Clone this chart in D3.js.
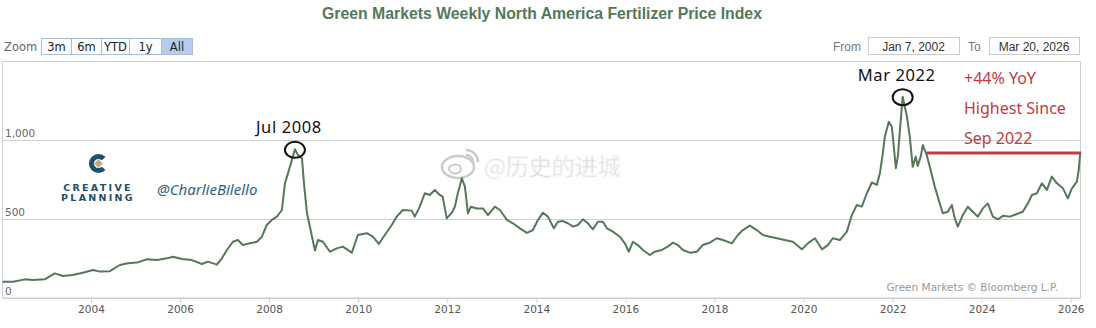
<!DOCTYPE html>
<html>
<head>
<meta charset="utf-8">
<script src="https://cdn.jsdelivr.net/npm/d3@7"></script>
<style>
body { margin: 0; background: #fff; }
svg text { font-family: "DejaVu Sans", sans-serif; }
</style>
</head>
<body>
<div id="chart"></div>
<script>
var parseDate = d3.timeParse('%Y-%m-%d');

// weekly index
var weekDates = [
  '2002-01-07','2002-04-01','2002-07-08','2002-09-12','2002-12-18','2003-03-10','2003-05-15','2003-08-05',
  '2003-10-26','2004-01-17','2004-03-14','2004-06-04','2004-08-25','2004-10-30','2005-01-12','2005-04-04',
  '2005-06-25','2005-09-15','2005-11-03','2006-01-16','2006-04-08','2006-06-29','2006-08-17','2006-10-30',
  '2006-12-10','2007-01-20','2007-03-10','2007-04-20','2007-05-31','2007-07-27','2007-09-23','2007-11-03',
  '2007-12-13','2008-01-23','2008-03-05','2008-04-15','2008-05-10','2008-06-04','2008-07-06','2008-07-31',
  '2008-08-25','2008-09-27','2008-10-13','2008-11-07','2008-12-01','2009-01-11','2009-02-05','2009-03-18',
  '2009-05-14','2009-07-10','2009-08-28','2009-11-10','2009-12-29','2010-03-13','2010-05-01','2010-06-19',
  '2010-08-07','2010-10-03','2010-11-13','2011-01-02','2011-03-16','2011-04-10','2011-05-21','2011-07-01',
  '2011-08-11','2011-09-21','2011-11-01','2011-11-25','2011-12-28','2012-02-08','2012-03-04','2012-03-28',
  '2012-04-30','2012-05-25','2012-06-19','2012-07-13','2012-09-01','2012-10-20','2012-11-30','2013-01-26',
  '2013-03-08','2013-05-05','2013-06-23','2013-08-19','2013-10-16','2013-12-04','2014-01-14','2014-02-24',
  '2014-04-06','2014-05-25','2014-06-27','2014-08-07','2014-09-17','2014-10-28','2014-12-08','2015-01-18',
  '2015-02-28','2015-04-10','2015-05-21','2015-07-01','2015-08-03','2015-09-21','2015-11-17','2015-12-28',
  '2016-01-30','2016-03-03','2016-04-13','2016-05-24','2016-07-20','2016-08-30','2016-10-26','2016-12-14',
  '2017-01-24','2017-03-07','2017-04-17','2017-06-13','2017-08-09','2017-09-27','2017-11-24','2018-01-21',
  '2018-03-11','2018-05-24','2018-07-12','2018-08-22','2018-10-18','2018-12-14','2019-02-02','2019-03-31',
  '2019-05-28','2019-08-01','2019-10-06','2019-12-19','2020-02-06','2020-04-04','2020-06-01','2020-07-19',
  '2020-08-29','2020-10-26','2020-12-22','2021-02-01','2021-03-14','2021-04-24','2021-06-04','2021-07-15',
  '2021-08-25','2021-09-19','2021-10-13','2021-10-30','2021-12-01','2021-12-26','2022-01-11','2022-01-28',
  '2022-02-13','2022-03-09','2022-03-25','2022-04-11','2022-04-27','2022-05-22','2022-06-15','2022-07-10',
  '2022-07-26','2022-08-20','2022-09-06','2022-10-08','2022-11-02','2022-12-13','2023-01-23','2023-02-17',
  '2023-03-30','2023-05-02','2023-05-26','2023-06-20','2023-07-31','2023-09-10','2023-10-21','2023-12-01',
  '2024-01-11','2024-02-21','2024-04-03','2024-05-14','2024-06-24','2024-08-20','2024-10-16','2024-12-04',
  '2025-01-15','2025-02-17','2025-03-30','2025-05-10','2025-06-20','2025-07-30','2025-09-10','2025-10-29',
  '2025-12-09','2026-01-11','2026-02-21','2026-03-08','2026-03-20'
];
var indexValues = [
  103, 103, 118, 114, 118, 156, 139, 146,
  160, 177, 167, 170, 209, 220, 224, 245,
  240, 251, 261, 247, 240, 215, 230, 211,
  251, 304, 356, 367, 335, 346, 356, 388,
  462, 494, 515, 557, 726, 789, 873, 941,
  905, 884, 726, 536, 451, 300, 367, 356,
  293, 314, 325, 287, 399, 410, 388, 342,
  399, 462, 515, 557, 553, 515, 578, 663,
  652, 684, 652, 642, 504, 540, 578, 663,
  758, 705, 536, 578, 567, 567, 525, 578,
  557, 494, 473, 441, 412, 430, 494, 540,
  515, 441, 483, 487, 473, 452, 462, 498,
  473, 435, 483, 483, 441, 420, 388, 346,
  293, 356, 335, 304, 272, 293, 304, 325,
  350, 335, 304, 287, 293, 335, 350, 378,
  367, 346, 399, 430, 458, 430, 399, 388,
  378, 367, 356, 308, 346, 378, 308, 335,
  378, 367, 420, 525, 589, 578, 663, 731,
  716, 789, 916, 1022, 1116, 1084, 958, 821,
  895, 1126, 1274, 1211, 1158, 1022, 831, 895,
  836, 895, 968, 905, 831, 705, 599, 536,
  546, 589, 504, 452, 525, 578, 546, 515,
  567, 599, 515, 498, 520, 515, 532, 546,
  599, 652, 663, 726, 684, 768, 726, 694,
  631, 694, 737, 810, 918
];

var yTicks = [0, 500, 1000];
var xTickYears = [2004, 2006, 2008, 2010, 2012, 2014, 2016, 2018, 2020, 2022, 2024, 2026];
var zoomLabels = ['3m', '6m', 'YTD', '1y', 'All'];
var rangeLabels = ['Jan 7, 2002', 'Mar 20, 2026'];
var peakLabels = [{date: '2008-07-31', text: 'Jul 2008'}, {date: '2022-03-25', text: 'Mar 2022'}];
var sinceLines = ['+44% YoY', 'Highest Since', 'Sep 2022'];
var sinceStart = '2022-10-08';

var width = 1096, height = 328;
var lineColor = '#56775a', gridColor = '#cfcfcf', redColor = '#c23a3e';

var data = weekDates.map(function(d, i) {
  return {date: parseDate(d), value: indexValues[i]};
});

var svg = d3.select('#chart').append('svg')
  .attr('width', width)
  .attr('height', height);

var x = d3.scaleTime()
  .domain([parseDate('2002-01-07'), parseDate('2026-03-20')])
  .range([2.7, 1080.2]);
var y = d3.scaleLinear()
  .domain([0, 1500])
  .range([298, 61]);

// title
svg.append('text')
  .attr('x', 542).attr('y', 19)
  .attr('text-anchor', 'middle')
  .style('font-family', '"Liberation Sans", Arial, sans-serif')
  .style('font-size', '15.8px')
  .style('font-weight', 'bold')
  .attr('fill', '#52795a')
  .text('Green Markets Weekly North America Fertilizer Price Index');

// range selector
svg.append('text')
  .attr('x', 4).attr('y', 51)
  .style('font-size', '11.5px')
  .attr('fill', '#666')
  .text('Zoom');

var buttonEdges = [41, 71, 101, 129, 161, 192];
var buttons = svg.append('g').selectAll('g')
  .data(zoomLabels)
  .enter().append('g');
buttons.append('rect')
  .attr('x', function(d, i) { return buttonEdges[i] + 0.5; })
  .attr('y', 38.5)
  .attr('width', function(d, i) { return buttonEdges[i + 1] - buttonEdges[i]; })
  .attr('height', 16)
  .attr('fill', function(d) { return d === 'All' ? '#b4cdef' : '#fbfcfe'; })
  .attr('stroke', '#a9bdd6');
buttons.append('text')
  .attr('x', function(d, i) { return (buttonEdges[i] + buttonEdges[i + 1]) / 2 + 0.5; })
  .attr('y', 51)
  .attr('text-anchor', 'middle')
  .style('font-size', '11.5px')
  .attr('fill', '#222')
  .text(function(d) { return d; });

svg.append('text')
  .attr('x', 833).attr('y', 51)
  .style('font-family', '"Liberation Sans", Arial, sans-serif')
  .style('font-size', '12px')
  .attr('fill', '#777')
  .text('From');
svg.append('text')
  .attr('x', 968).attr('y', 51)
  .style('font-family', '"Liberation Sans", Arial, sans-serif')
  .style('font-size', '12px')
  .attr('fill', '#777')
  .text('To');

var inputBoxes = [[868, 959], [989, 1079]];
svg.append('g').selectAll('g')
  .data(rangeLabels)
  .enter().append('g')
  .each(function(d, i) {
    var g = d3.select(this), b = inputBoxes[i];
    g.append('rect')
      .attr('x', b[0] + 0.5).attr('y', 37.5)
      .attr('width', b[1] - b[0]).attr('height', 17)
      .attr('fill', '#fff').attr('stroke', '#ccc');
    g.append('text')
      .attr('x', (b[0] + b[1]) / 2).attr('y', 51)
      .attr('text-anchor', 'middle')
      .style('font-family', '"Liberation Sans", Arial, sans-serif')
      .style('font-size', '12px')
      .attr('fill', '#333')
      .text(d);
  });

// plot frame + grid
var plot = svg.append('g').attr('class', 'plot');
plot.append('rect')
  .attr('x', 2.5).attr('y', 61.5)
  .attr('width', 1078).attr('height', 236.5)
  .attr('fill', 'none')
  .attr('stroke', gridColor);

plot.selectAll('.grid')
  .data(yTicks)
  .enter().append('line')
  .attr('class', 'grid')
  .attr('x1', 2.5).attr('x2', 1081)
  .attr('y1', function(d) { return Math.round(y(d)) + 0.5; })
  .attr('y2', function(d) { return Math.round(y(d)) + 0.5; })
  .attr('stroke', gridColor);

plot.selectAll('.ylabel')
  .data(yTicks)
  .enter().append('text')
  .attr('class', 'ylabel')
  .attr('x', 5)
  .attr('y', function(d) { return y(d) - 3; })
  .style('font-size', '10.5px')
  .attr('fill', '#666')
  .text(d3.format(','));

// x axis
var xAxis = d3.axisBottom(x)
  .tickValues(xTickYears.map(function(yr) { return new Date(yr, 0, 1); }))
  .tickFormat(d3.timeFormat('%Y'))
  .tickSize(5)
  .tickPadding(3);
var gx = svg.append('g')
  .attr('transform', 'translate(0,298)')
  .call(xAxis);
gx.select('.domain').remove();
gx.selectAll('.tick line').attr('stroke', gridColor);
gx.selectAll('.tick text')
  .style('font-size', '10.5px')
  .style('font-family', '"DejaVu Sans", sans-serif')
  .attr('fill', '#555');

// branding
var logo = svg.append('g').attr('transform', 'translate(98.5,163.5)');
logo.append('path')
  .attr('d', d3.arc()
    .innerRadius(4.6)
    .outerRadius(9.6)
    .startAngle(Math.PI * 0.74)
    .endAngle(Math.PI * 2.26)())
  .attr('fill', '#1e5068');
logo.append('path')
  .attr('d', 'M0,-4.2 L4.2,0 L0,4.2 L-4.2,0 Z')
  .attr('fill', '#c5a67c');
svg.append('text')
  .attr('x', 98).attr('y', 190.5)
  .attr('text-anchor', 'middle')
  .style('font-size', '9.5px').style('font-weight', 'bold')
  .style('letter-spacing', '2.3px')
  .attr('fill', '#1e4f66')
  .text('CREATIVE');
svg.append('text')
  .attr('x', 98).attr('y', 201)
  .attr('text-anchor', 'middle')
  .style('font-size', '9.5px').style('font-weight', 'bold')
  .style('letter-spacing', '2.3px')
  .attr('fill', '#1e4f66')
  .text('PLANNING');
svg.append('text')
  .attr('x', 157).attr('y', 195)
  .style('font-family', '"Noto Sans", sans-serif')
  .style('font-size', '15px')
  .style('font-style', 'italic')
  .attr('fill', '#2c6384')
  .text('@CharlieBilello');

// weibo watermark
var wm = svg.append('g').attr('opacity', 0.7);
wm.append('ellipse')
  .attr('cx', 458).attr('cy', 167).attr('rx', 16).attr('ry', 11)
  .attr('fill', '#fff').attr('stroke', '#b5b5b5').attr('stroke-width', 2.5);
wm.append('ellipse')
  .attr('cx', 455).attr('cy', 169).attr('rx', 6).attr('ry', 4.5)
  .attr('fill', 'none').attr('stroke', '#b5b5b5').attr('stroke-width', 2);
wm.append('path')
  .attr('d', 'M466,150 A12,12 0 0 1 478,162 M466,155 A7,7 0 0 1 473,162')
  .attr('fill', 'none').attr('stroke', '#b5b5b5').attr('stroke-width', 2.5);
wm.append('text')
  .attr('x', 484).attr('y', 175)
  .style('font-family', '"Noto Sans CJK SC", sans-serif')
  .style('font-size', '23px')
  .attr('fill', '#bdbdbd')
  .attr('stroke', '#f2f2f2').attr('stroke-width', 1)
  .text('@历史的进城');

// series
var line = d3.line()
  .x(function(d) { return x(d.date); })
  .y(function(d) { return y(d.value); });

svg.append('path')
  .datum(data)
  .attr('d', line)
  .attr('fill', 'none')
  .attr('stroke', lineColor)
  .attr('stroke-width', 2)
  .attr('stroke-linejoin', 'round');

// peak annotations
peakLabels.forEach(function(p) {
  var pt = data.find(function(d) { return +d.date === +parseDate(p.date); });
  var px = x(pt.date), py = y(pt.value);
  svg.append('ellipse')
    .attr('cx', px).attr('cy', py + 0.5)
    .attr('rx', 10).attr('ry', 8)
    .attr('fill', 'none')
    .attr('stroke', '#111')
    .attr('stroke-width', 2);
  svg.append('text')
    .attr('x', px - 6).attr('y', py - 16)
    .attr('text-anchor', 'middle')
    .style('font-family', '"Noto Sans", sans-serif')
    .style('font-size', '16.5px')
    .style('letter-spacing', '0.6px')
    .attr('fill', '#111')
    .text(p.text);
});

// highest-since line
var last = data[data.length - 1];
svg.append('line')
  .attr('x1', x(parseDate(sinceStart))).attr('x2', x(last.date) + 1)
  .attr('y1', y(last.value)).attr('y2', y(last.value))
  .attr('stroke', redColor)
  .attr('stroke-width', 3);

svg.append('g').selectAll('text')
  .data(sinceLines)
  .enter().append('text')
  .attr('x', 964)
  .attr('y', function(d, i) { return 84 + i * 30; })
  .style('font-family', '"Noto Sans", sans-serif')
  .style('font-size', '16px')
  .attr('fill', redColor)
  .text(function(d) { return d; });

// credits
svg.append('text')
  .attr('x', 1058).attr('y', 291)
  .attr('text-anchor', 'end')
  .style('font-size', '10.5px')
  .attr('fill', '#999')
  .text('Green Markets \u00a9 Bloomberg L.P.');
</script>
</body>
</html>
